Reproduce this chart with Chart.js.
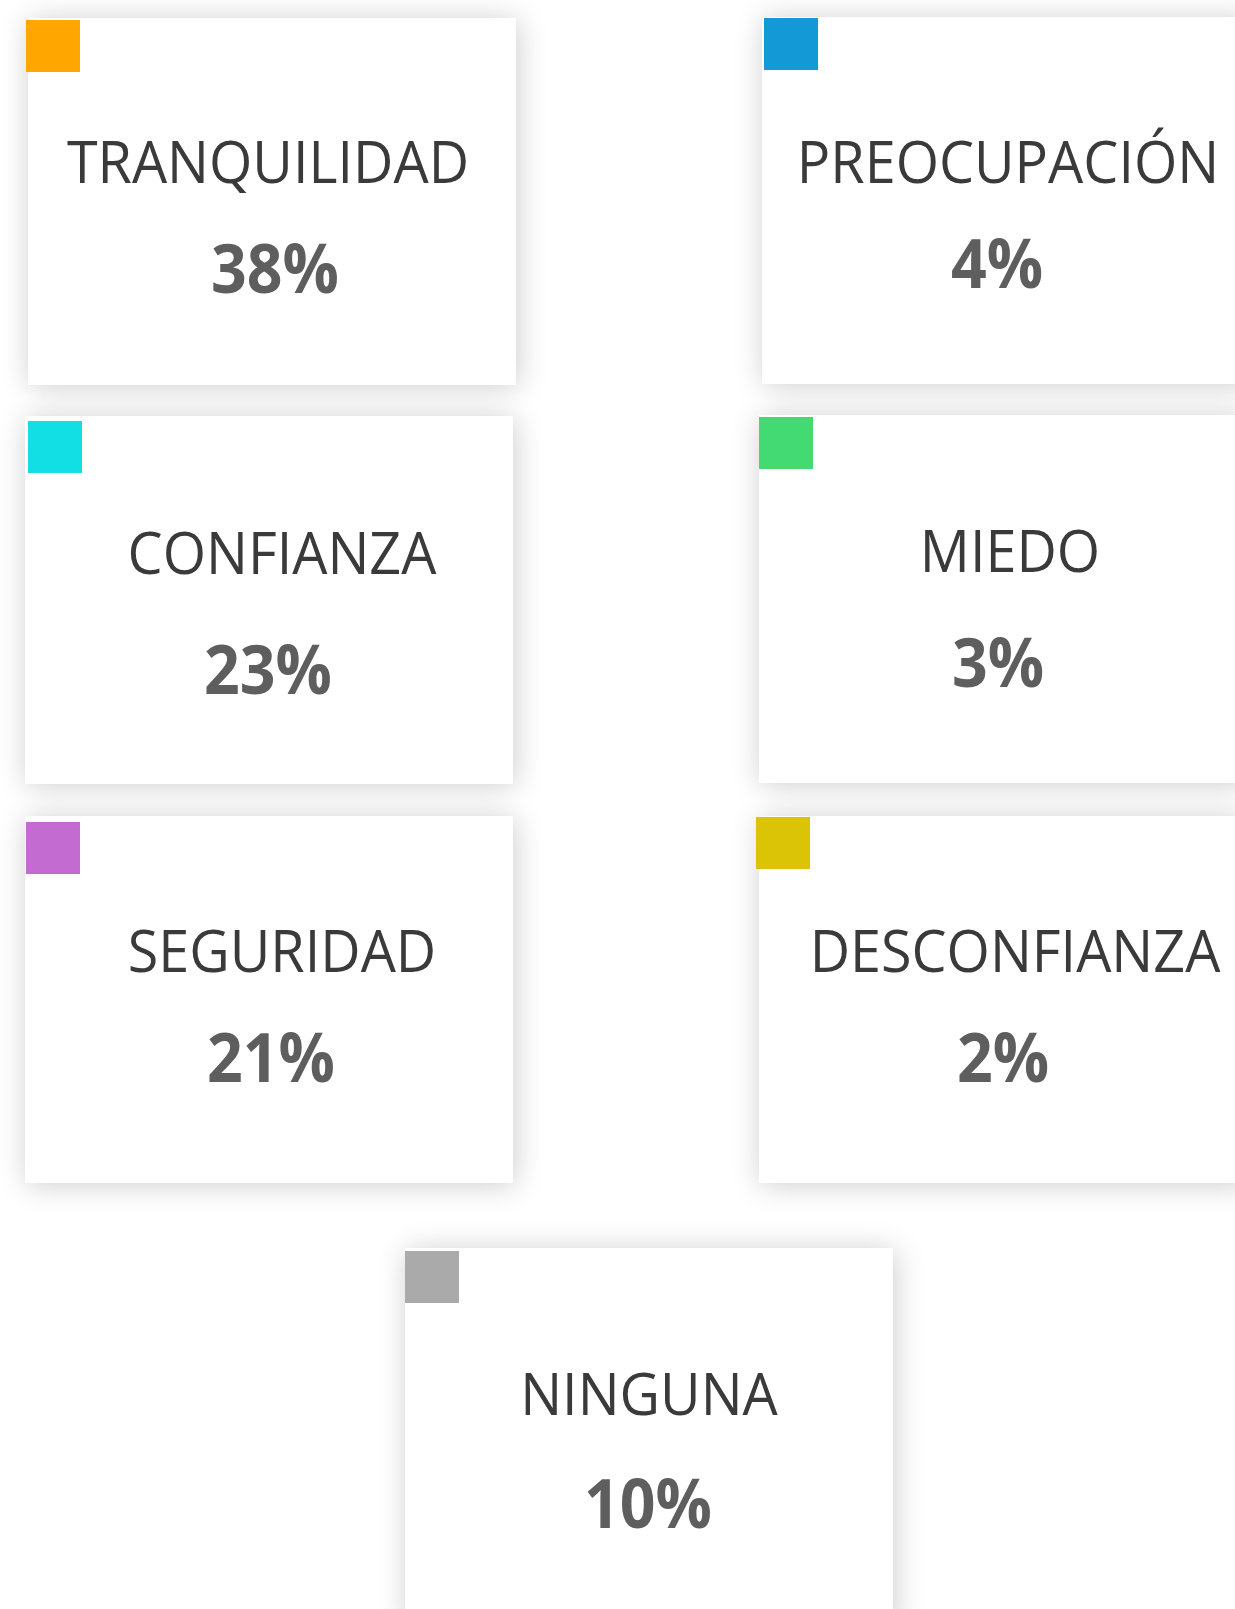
<!DOCTYPE html>
<html><head><meta charset="utf-8">
<script src="https://cdn.jsdelivr.net/npm/chart.js@4.4.1/dist/chart.umd.min.js"></script>
<style>html,body{margin:0;padding:0;background:#fff;overflow:hidden}canvas{display:block}</style>
</head><body>
<div style="width:1235px;height:1609px;position:relative"><canvas id="c"></canvas></div>
<script>
// ---- data ----
const categories = ['TRANQUILIDAD','PREOCUPACIÓN','CONFIANZA','MIEDO','SEGURIDAD','DESCONFIANZA','NINGUNA'];
const values = [38, 4, 23, 3, 21, 2, 10];
const colors = ['#FFA600','#1399D6','#11DFE4','#43D973','#C36BD1','#DBC305','#AAAAAA'];

// ---- layout (card boxes in page pixels: x, y, w, h) ----
const cardBox = [
  [28, 18, 488, 367],
  [762, 17, 488, 367],
  [25, 416, 488, 368],
  [759, 415, 488, 368],
  [25, 816, 488, 367],
  [759, 816, 488, 367],
  [405, 1248, 488, 380]
];
const squareOff = [[-2,2],[2,1],[3,5],[0,2],[1,6],[-3,1],[0,3]];
const labelPos = [[268,183],[1008,183],[282,574],[1010,572],[282,972],[1015,972],[649,1415]];
const valuePos = [[275,293],[997,288],[268,694],[998,687],[271,1082],[1003,1082],[648,1528]];

const W = 1235, H = 1609;
const canvas = document.getElementById('c');
canvas.width = W; canvas.height = H;
canvas.style.width = W + 'px'; canvas.style.height = H + 'px';

const cardsPlugin = {
  id: 'cards',
  beforeDatasetsDraw(chart) {
    const ctx = chart.ctx;
    const xs = chart.scales.x, ys = chart.scales.y;
    const ds = chart.data.datasets[0];
    ctx.save();
    cardBox.forEach((b) => {
      const x0 = xs.getPixelForValue(b[0]), y0 = ys.getPixelForValue(b[1]);
      const x1 = xs.getPixelForValue(b[0] + b[2]), y1 = ys.getPixelForValue(b[1] + b[3]);
      ctx.save();
      ctx.shadowColor = 'rgba(0,0,0,0.2)';
      ctx.shadowBlur = 28;
      ctx.shadowOffsetX = 2;
      ctx.shadowOffsetY = 2;
      ctx.fillStyle = '#ffffff';
      ctx.fillRect(x0, y0, x1 - x0, y1 - y0);
      ctx.restore();
    });
    cardBox.forEach((b) => {
      const x0 = xs.getPixelForValue(b[0]), y0 = ys.getPixelForValue(b[1]);
      const x1 = xs.getPixelForValue(b[0] + b[2]), y1 = ys.getPixelForValue(b[1] + b[3]);
      ctx.fillStyle = '#ffffff';
      ctx.fillRect(x0, y0, x1 - x0, y1 - y0);
    });
    categories.forEach((cat, i) => {
      const b = cardBox[i];
      const sx = xs.getPixelForValue(b[0] + squareOff[i][0]);
      const sy = ys.getPixelForValue(b[1] + squareOff[i][1]);
      ctx.fillStyle = ds.backgroundColor[i];
      ctx.fillRect(sx, sy, 54, 52);
      ctx.textAlign = 'center';
      ctx.textBaseline = 'alphabetic';
      ctx.fillStyle = '#3a3a3a';
      ctx.font = '58px "Open Sans"';
      const lx = xs.getPixelForValue(labelPos[i][0]), ly = ys.getPixelForValue(labelPos[i][1]);
      ctx.save();
      ctx.translate(lx, ly);
      ctx.scale(0.96, 1);
      ctx.fillText(cat, 0, 0);
      ctx.restore();
      ctx.fillStyle = '#5e5e5e';
      ctx.font = 'bold 68px "Open Sans"';
      const vx = xs.getPixelForValue(valuePos[i][0]), vy = ys.getPixelForValue(valuePos[i][1]);
      ctx.save();
      ctx.translate(vx, vy);
      ctx.scale(0.92, 1);
      ctx.fillText(ds.data[i].v + '%', 0, 0);
      ctx.restore();
    });
    ctx.restore();
  }
};

new Chart(canvas, {
  type: 'scatter',
  data: {
    labels: categories,
    datasets: [{
      label: 'Emoción',
      data: values.map((v, i) => ({ x: cardBox[i][0] + cardBox[i][2] / 2, y: cardBox[i][1] + cardBox[i][3] / 2, v })),
      backgroundColor: colors,
      pointRadius: 0,
      pointHoverRadius: 0
    }]
  },
  options: {
    responsive: false,
    devicePixelRatio: 1,
    animation: false,
    events: [],
    layout: { padding: 0 },
    plugins: { legend: { display: false }, tooltip: { enabled: false } },
    scales: {
      x: { type: 'linear', min: 0, max: W, display: false },
      y: { type: 'linear', min: 0, max: H, reverse: true, display: false }
    }
  },
  plugins: [cardsPlugin]
});
</script>
</body></html>
